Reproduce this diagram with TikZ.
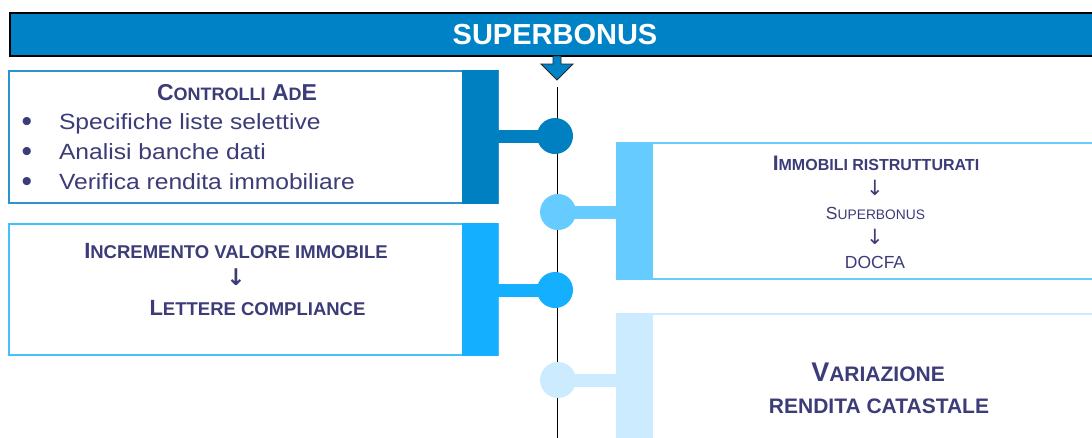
\documentclass[tikz,border=0pt]{standalone}
\usepackage{fontspec}
\setmainfont{Liberation Sans}
\newfontfamily\widefont[FakeStretch=1.12]{Liberation Sans}
\newfontfamily\arrowfont{DejaVu Sans}
\definecolor{titleblue}{HTML}{0083C6}
\definecolor{blueA}{HTML}{0080C0}
\definecolor{blueAline}{HTML}{2E92D2}
\definecolor{blueB}{HTML}{66CCFF}
\definecolor{blueC}{HTML}{14AFFF}
\definecolor{blueCline}{HTML}{45C0FF}
\definecolor{blueD}{HTML}{CCEBFF}
\definecolor{txt}{HTML}{3C3C78}
\newcommand{\szt}[2]{{\fontsize{#1}{#1}\selectfont #2}}
\begin{document}
\begin{tikzpicture}[x=1pt,y=-1pt,
  every node/.style={inner sep=0pt, outer sep=0pt, text=txt},
  box/.style={rectangle, draw, fill=white, line width=1.3pt},
  bar/.style={rectangle, minimum width=36},
  link/.style={line width=13pt},
  dot/.style={circle, minimum size=36},
  lbl/.style={anchor=base},
  darr/.style={font=\arrowfont\fontsize{21}{21}\selectfont}]
\useasboundingbox (0,0) rectangle (1092,437);

% title bar
\node[rectangle, draw=black, line width=1.2pt, fill=titleblue, minimum width=1090, minimum height=43,
      text=white, font=\bfseries\fontsize{29}{29}\selectfont] (title) at (555,34.5) {SUPERBONUS};
\draw[fill=titleblue, draw=black!85, line width=0.9pt]
  (553,56) -- (561,56) -- (561,64) -- (573,64) -- (557,80) -- (541,64) -- (553,64) -- cycle;

% timeline
\coordinate (ltop) at (557.5,87);
\coordinate (lbot) at (557.5,440);
\draw[line width=1.6pt, black] (ltop) -- (lbot);

% box 1
\node[box, draw=blueAline, minimum width=489, minimum height=132] (b1) at (253.5,137) {};
\node[bar, fill=blueA, minimum height=133.3] (bar1) at (480,137) {};
% box 2
\node[box, draw=blueB, minimum width=483, minimum height=136] (b2) at (858.5,211) {};
\node[bar, fill=blueB, minimum height=137.3] (bar2) at (635,211) {};
% box 3
\node[box, draw=blueCline, minimum width=489, minimum height=131] (b3) at (253.5,289.5) {};
\node[bar, fill=blueC, minimum height=132.3] (bar3) at (480,289.5) {};
% box 4
\node[box, draw=blueD, minimum width=483, minimum height=146] (b4) at (858.5,387) {};
\node[bar, fill=blueD, minimum height=147.3] (bar4) at (635,387) {};

% circles and connectors
\node[dot] (c1) at (555,136) {};
\node[dot] (c2) at (558,212) {};
\node[dot] (c3) at (555,290) {};
\node[dot] (c4) at (558,380) {};
\draw[link, blueA] (bar1.east |- c1) -- (c1.center);
\draw[link, blueB] (c2.center) -- (bar2.west |- c2);
\draw[link, blueC] (bar3.east |- c3) -- (c3.center);
\draw[link, blueD] (c4.center) -- (bar4.west |- c4);
\node[dot, fill=blueA] at (c1) {};
\node[dot, fill=blueB] at (c2) {};
\node[dot, fill=blueC] at (c3) {};
\node[dot, fill=blueD] at (c4) {};

% texts box 1
\node[lbl, font=\bfseries\fontsize{23}{23}\selectfont] (t1) at (237,100)
  {\szt{23}{C}\szt{18}{ONTROLLI} \szt{23}{A}\szt{18}{D}\szt{23}{E}};
\node[lbl, anchor=base west, font=\widefont\fontsize{22}{22}\selectfont] (s1) at (59,129) {Specifiche liste selettive};
\node[lbl, anchor=base west, font=\widefont\fontsize{22}{22}\selectfont] (s2) at (59,159) {Analisi banche dati};
\node[lbl, anchor=base west, font=\widefont\fontsize{22}{22}\selectfont] (s3) at (59,189) {Verifica rendita immobiliare};
\node[font=\fontsize{30}{30}\selectfont] (d1) at (27,124.5) {•};
\node[font=\fontsize{30}{30}\selectfont] (d2) at (27,154.5) {•};
\node[font=\fontsize{30}{30}\selectfont] (d3) at (27,184.5) {•};

% texts box 2
\node[lbl, font=\bfseries\fontsize{21}{21}\selectfont] (t2) at (876,170.5)
  {\szt{21}{I}\szt{16}{MMOBILI RISTRUTTURATI}};
\node[darr] (a21) at (875,188) {↓};
\node[lbl, font=\fontsize{17.5}{17.5}\selectfont] (t2b) at (875.5,219)
  {\szt{17.5}{S}\szt{13.8}{UPERBONUS}};
\node[darr] (a22) at (875,237) {↓};
\node[lbl, font=\fontsize{17.5}{17.5}\selectfont] (t2c) at (875,268.5) {DOCFA};

% texts box 3
\node[darr, font=\arrowfont\bfseries\fontsize{23}{23}\selectfont] (a3) at (236,277) {↓};
\node[lbl, font=\bfseries\fontsize{22}{22}\selectfont] (t3) at (236,258)
  {\szt{22}{I}\szt{18.5}{NCREMENTO VALORE IMMOBILE}};
\node[lbl, font=\bfseries\fontsize{22}{22}\selectfont] (t3b) at (257.5,315)
  {\szt{22}{L}\szt{18.5}{ETTERE COMPLIANCE}};

% texts box 4
\node[lbl, font=\bfseries\fontsize{27}{27}\selectfont] (t4) at (878,381)
  {\szt{27}{V}\szt{21}{ARIAZIONE}};
\node[lbl, font=\bfseries\fontsize{21}{21}\selectfont] (t4b) at (879,413.5) {RENDITA CATASTALE};
\end{tikzpicture}
\end{document}
